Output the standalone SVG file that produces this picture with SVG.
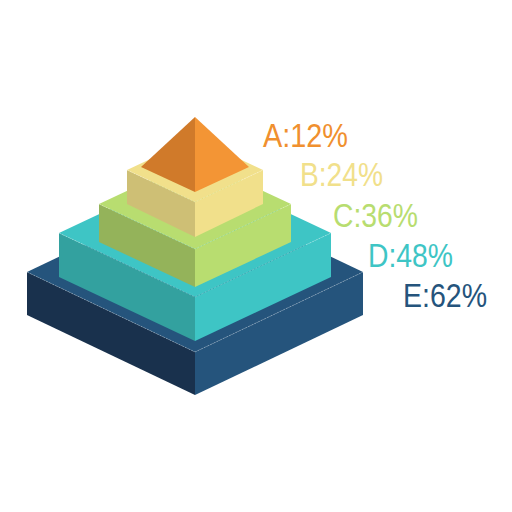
<svg xmlns="http://www.w3.org/2000/svg" width="512" height="512" viewBox="0 0 512 512">
<style>
.lbl{font-family:"Liberation Sans",Arial,sans-serif;font-size:33px;}
.edge{fill:none;stroke:#ffffff;stroke-opacity:0.35;stroke-width:0.7;stroke-dasharray:2 1.5;}
</style>
<rect width="512" height="512" fill="#ffffff"/>
<g id="layerE">
<polygon points="27,272 195,352 195,395 27,315" fill="#19314d"/>
<polygon points="195,352 363,272 363,315 195,395" fill="#25547c"/>
<polygon points="27,272 195,192 363,272 195,352" fill="#25547c"/>
<polyline class="edge" points="27,272 195,352 363,272"/>
</g>
<g id="layerD">
<polygon points="59,233 195,297 195,341 59,277" fill="#33a19f"/>
<polygon points="195,297 331,233 331,277 195,341" fill="#3ec5c5"/>
<polygon points="59,233 195,169 331,233 195,297" fill="#3ec5c5"/>
<polyline class="edge" points="59,233 195,297 331,233"/>
</g>
<g id="layerC">
<polygon points="99,204 195,249 195,287 99,242" fill="#94b35a"/>
<polygon points="195,249 291,204 291,242 195,287" fill="#b8dd70"/>
<polygon points="99,204 195,159 291,204 195,249" fill="#b8dd70"/>
<polyline class="edge" points="99,204 195,249 291,204"/>
</g>
<g id="layerB">
<polygon points="127,170 195,202 195,237 127,204" fill="#cebf75"/>
<polygon points="195,202 263,170 263,204 195,237" fill="#f1e08b"/>
<polygon points="127,170 195,138 263,170 195,202" fill="#f1e08b"/>
<polyline class="edge" points="127,170 195,202 263,170"/>
</g>
<g id="layerA">
<polygon points="195,117 141,167 195,192" fill="#d07a2a"/>
<polygon points="195,117 249,167 195,192" fill="#f39535"/>
</g>
<g id="labels">
<text class="lbl" x="263" y="147" textLength="85" lengthAdjust="spacingAndGlyphs" fill="#f0902f">A:12%</text>
<text class="lbl" x="300" y="186" textLength="83" lengthAdjust="spacingAndGlyphs" fill="#f1e08b">B:24%</text>
<text class="lbl" x="333" y="227" textLength="85" lengthAdjust="spacingAndGlyphs" fill="#b8dd70">C:36%</text>
<text class="lbl" x="368" y="267" textLength="85" lengthAdjust="spacingAndGlyphs" fill="#3ec5c5">D:48%</text>
<text class="lbl" x="403" y="307" textLength="84" lengthAdjust="spacingAndGlyphs" fill="#25547c">E:62%</text>
</g>
</svg>
